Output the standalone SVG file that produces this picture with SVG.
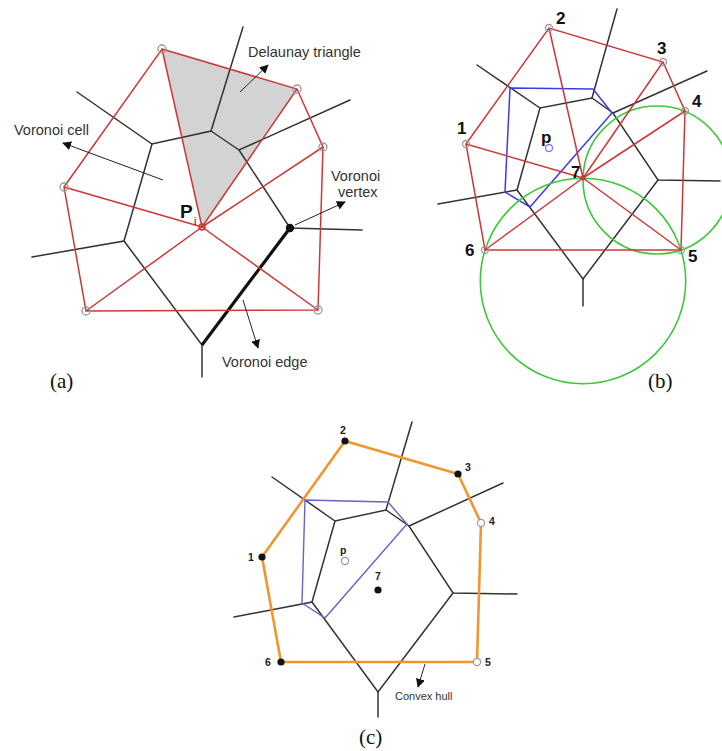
<svg xmlns="http://www.w3.org/2000/svg" width="722" height="751" viewBox="0 0 722 751">
<defs>
<marker id="ah" viewBox="0 0 10 10" refX="9" refY="5" markerWidth="9" markerHeight="9" markerUnits="userSpaceOnUse" orient="auto"><path d="M0,0 L10,5 L0,10 z" fill="#111"/></marker>
<style>
.vor{stroke:#333;stroke-width:1.5;fill:none;stroke-linecap:round}
.del{stroke:#cc3838;stroke-width:1.5;fill:none}
.blue{stroke:#3b3bea;stroke-width:1.5;fill:none}
.blue2{stroke:#6a62c8;stroke-width:1.4;fill:none}
.hull{stroke:#f0962e;stroke-width:2.6;fill:none;stroke-linejoin:round}
.green{stroke:#3cc83c;stroke-width:1.6;fill:none}
.arr{stroke:#222;stroke-width:1;fill:none;marker-end:url(#ah)}
.site{fill:none;stroke:#999;stroke-width:1.3}
.lbl{font-family:"Liberation Sans",Arial,sans-serif;font-size:14.5px;fill:#333}
.lbls{font-family:"Liberation Sans",Arial,sans-serif;font-size:11px;fill:#333}
.num{font-family:"Liberation Sans",Arial,sans-serif;font-size:17px;font-weight:bold;fill:#111}
.nums{font-family:"Liberation Sans",Arial,sans-serif;font-size:10.5px;font-weight:bold;fill:#222}
.cap{font-family:"Liberation Serif","Times New Roman",serif;font-size:21px;fill:#111}
.dot{fill:#111}
.hol{fill:#fff;stroke:#999;stroke-width:1.2}
</style>
</defs>
<rect width="722" height="751" fill="#fff"/>

<!-- Panel (a) -->
<g id="panel-a">
<polygon id="delaunay-triangle-fill" points="162,49 297,89 202,227" fill="#d3d3d3"/>
<g id="a-voronoi">
<polyline class="vor" points="243,27 211,131 152,144 77,92"/>
<polyline class="vor" points="211,131 239,150 350,100"/>
<polyline class="vor" points="239,150 290,228 362,230"/>
<polyline class="vor" points="152,144 124,241 32,257"/>
<polyline class="vor" points="124,241 202,345 202,377"/>
<line x1="290" y1="228" x2="202" y2="345" stroke="#111" stroke-width="3.2"/>
</g>
<g id="a-delaunay">
<polygon class="del" points="162,49 297,89 323,147 318,310 86,311 64,187"/>
<line class="del" x1="202" y1="227" x2="162" y2="49"/>
<line class="del" x1="202" y1="227" x2="297" y2="89"/>
<line class="del" x1="202" y1="227" x2="323" y2="147"/>
<line class="del" x1="202" y1="227" x2="318" y2="310"/>
<line class="del" x1="202" y1="227" x2="86" y2="311"/>
<line class="del" x1="202" y1="227" x2="64" y2="187"/>
</g>
<g id="a-sites">
<circle class="site" cx="162" cy="49" r="4"/>
<circle class="site" cx="297" cy="89" r="4"/>
<circle class="site" cx="323" cy="147" r="4"/>
<circle class="site" cx="64" cy="187" r="4"/>
<circle class="site" cx="86" cy="311" r="4"/>
<circle class="site" cx="318" cy="310" r="4"/>
<circle cx="202" cy="227" r="3" fill="none" stroke="#cc3838" stroke-width="1.5"/>
<circle cx="290" cy="228" r="4.2" class="dot"/>
</g>
<g id="a-labels">
<text class="lbl" x="248" y="57">Delaunay triangle</text>
<line class="arr" x1="240" y1="92" x2="268" y2="65"/>
<text class="lbl" x="14" y="135">Voronoi cell</text>
<line class="arr" x1="163" y1="180" x2="63" y2="143"/>
<text x="180" y="218" font-family="Liberation Sans,Arial,sans-serif" font-size="19" font-weight="bold" fill="#111">P</text>
<text x="194" y="225" font-family="Liberation Sans,Arial,sans-serif" font-size="10" fill="#111">i</text>
<text class="lbl" x="331" y="181">Voronoi</text>
<text class="lbl" x="338" y="197">vertex</text>
<line class="arr" x1="295" y1="225" x2="345" y2="202"/>
<text class="lbl" x="222" y="367">Voronoi edge</text>
<line class="arr" x1="243" y1="300" x2="258" y2="348"/>
</g>
<text class="cap" x="50" y="388">(a)</text>
</g>

<!-- Panel (b) -->
<g id="panel-b">
<g id="b-voronoi">
<polyline class="vor" points="477,65 540,108 592,98 613,113 658,180 720,181"/>
<line class="vor" x1="592" y1="98" x2="617" y2="9"/>
<line class="vor" x1="613" y1="113" x2="707" y2="71"/>
<polyline class="vor" points="540,108 517,190 438,204"/>
<polyline class="vor" points="517,190 583,279 658,180"/>
<line class="vor" x1="583" y1="279" x2="583" y2="306"/>
</g>
<polygon id="b-new-cell" class="blue" points="510,88 593,89 612,113 530,207 505,192"/>
<g id="b-circles">
<circle class="green" cx="657" cy="180" r="74"/>
<circle class="green" cx="583" cy="281" r="102.7"/>
</g>
<g id="b-delaunay">
<polygon class="del" points="466,144 549,28 663,62 685,111 681,250 485,250"/>
<line class="del" x1="583" y1="178" x2="466" y2="144"/>
<line class="del" x1="583" y1="178" x2="549" y2="28"/>
<line class="del" x1="583" y1="178" x2="663" y2="62"/>
<line class="del" x1="583" y1="178" x2="685" y2="111"/>
<line class="del" x1="583" y1="178" x2="681" y2="250"/>
<line class="del" x1="583" y1="178" x2="485" y2="250"/>
</g>
<g id="b-sites">
<circle class="site" cx="466" cy="144" r="3.5"/>
<circle class="site" cx="549" cy="28" r="3.5"/>
<circle class="site" cx="663" cy="62" r="3.5"/>
<circle class="site" cx="685" cy="111" r="3.5"/>
<circle class="site" cx="681" cy="250" r="3.5"/>
<circle class="site" cx="485" cy="250" r="3.5"/>
<circle cx="583" cy="178" r="2.5" fill="#cc3838"/>
<circle cx="549" cy="148" r="3.5" fill="none" stroke="#7a7ae0" stroke-width="1.3"/>
</g>
<g id="b-labels">
<text class="num" x="556" y="24">2</text>
<text class="num" x="657" y="54">3</text>
<text class="num" x="692" y="107">4</text>
<text class="num" x="457" y="134">1</text>
<text class="num" x="571" y="178">7</text>
<text class="num" x="465" y="256">6</text>
<text class="num" x="688" y="262">5</text>
<text class="num" x="541" y="143">p</text>
</g>
<text class="cap" x="648" y="388">(b)</text>
</g>

<!-- Panel (c) -->
<g id="panel-c">
<g id="c-voronoi">
<polyline class="vor" points="272,477 335,521 386,510 409,526 453,593 517,594"/>
<line class="vor" x1="386" y1="510" x2="412" y2="422"/>
<line class="vor" x1="409" y1="526" x2="503" y2="483"/>
<polyline class="vor" points="335,521 312,602 234,617"/>
<polyline class="vor" points="312,602 378,692 453,593"/>
<line class="vor" x1="378" y1="692" x2="378" y2="717"/>
</g>
<polygon id="c-new-cell" class="blue2" points="305,500 388,502 407,524 325,618 302,603"/>
<polygon id="c-hull" class="hull" points="345,441 458,474 481,523 477,662 281,662 262,557"/>
<g id="c-sites">
<circle class="dot" cx="345" cy="441" r="3.6"/>
<circle class="dot" cx="458" cy="474" r="3.6"/>
<circle class="hol" cx="481" cy="523" r="3.6"/>
<circle class="hol" cx="477" cy="662" r="3.6"/>
<circle class="dot" cx="281" cy="662" r="3.6"/>
<circle class="dot" cx="262" cy="557" r="3.6"/>
<circle class="dot" cx="378" cy="590" r="3.6"/>
<circle class="hol" cx="345" cy="561" r="3.6"/>
</g>
<g id="c-labels">
<text class="nums" x="340" y="434">2</text>
<text class="nums" x="465" y="471">3</text>
<text class="nums" x="489" y="525">4</text>
<text class="nums" x="248" y="561">1</text>
<text class="nums" x="375" y="580">7</text>
<text class="nums" x="265" y="666">6</text>
<text class="nums" x="485" y="666">5</text>
<text class="nums" x="340" y="554">p</text>
<text class="lbls" x="395" y="700">Convex hull</text>
<line class="arr" x1="425" y1="664" x2="418" y2="687"/>
</g>
<text class="cap" x="359" y="744">(c)</text>
</g>
</svg>
